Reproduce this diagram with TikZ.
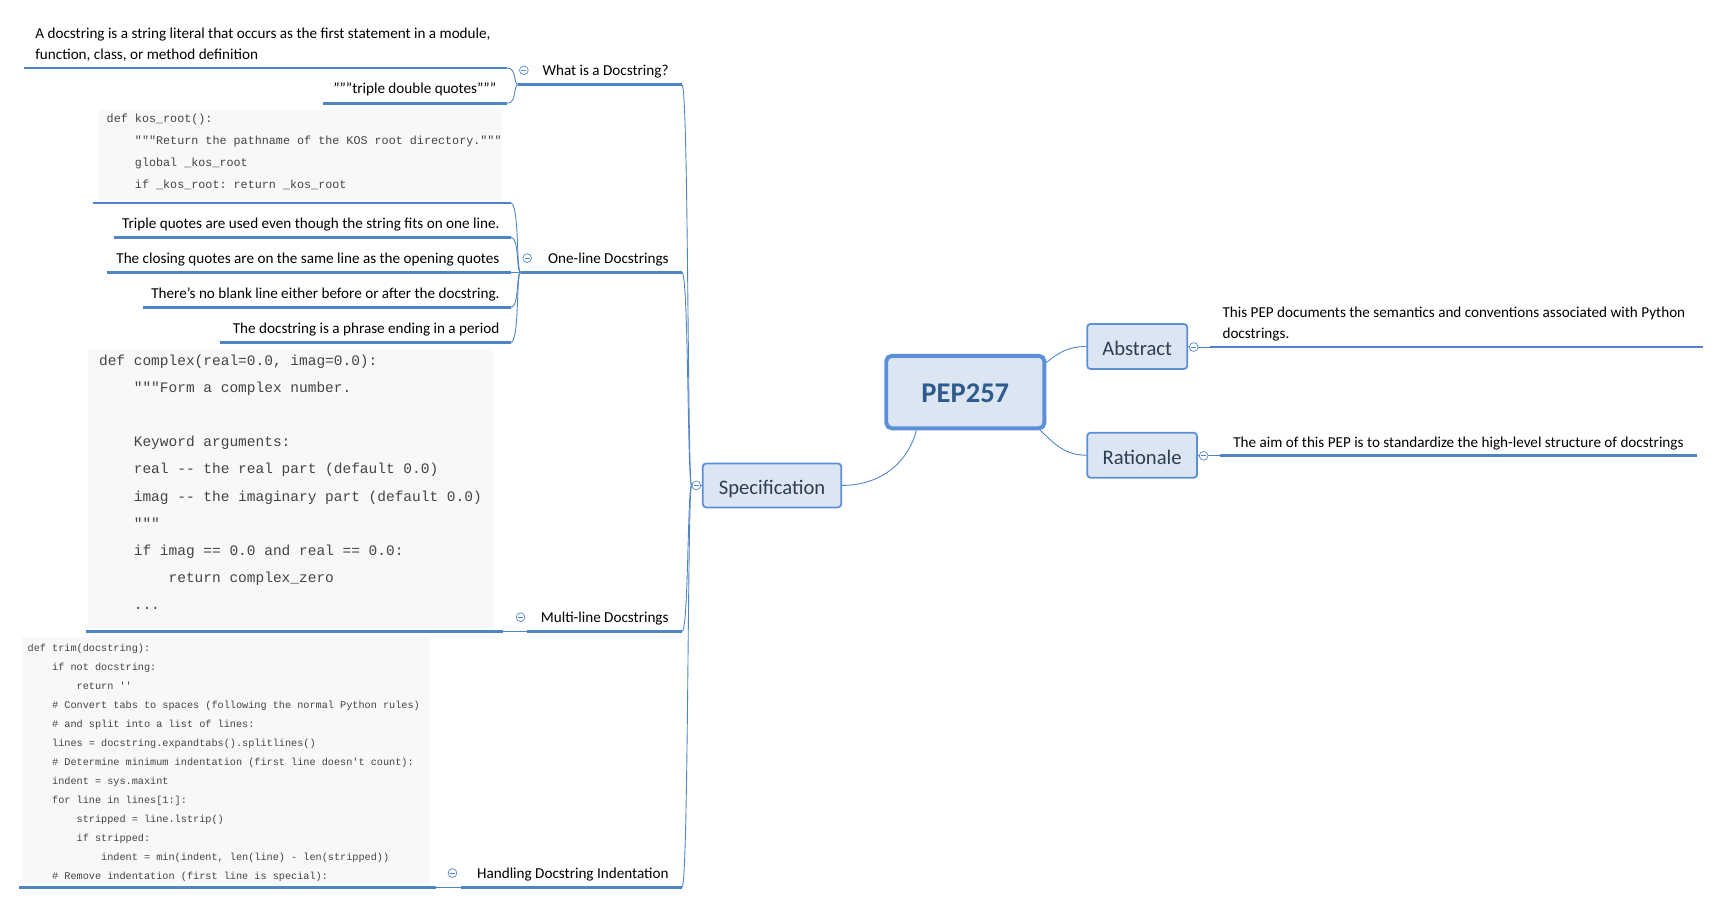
\documentclass[tikz,border=0pt]{standalone}
\usepackage{fontspec}
\setmainfont{Carlito}
\setmonofont{Liberation Mono}
\definecolor{lnblue}{HTML}{5084C8}
\definecolor{bdblue}{HTML}{5B8FD8}
\definecolor{boxfill}{HTML}{DCE6F2}
\definecolor{toptext}{HTML}{2C3E50}
\definecolor{peptext}{HTML}{2E5A8E}
\definecolor{codegray}{HTML}{F8F8F8}
\definecolor{codetext}{HTML}{444444}
\newcommand\ia{\hspace*{2.4em}}
\newcommand\collapsenode[2]{%
  \node[collapse] (#1) at (#2) {};
  \draw[lnblue, line width=0.6pt] ([xshift=-2.2pt]#1.center) -- ([xshift=2.2pt]#1.center);}
\begin{document}
\begin{tikzpicture}[x=1pt,y=-1pt,
  ln/.style={draw=lnblue, line width=0.8pt},
  uln/.style={draw=lnblue, line width=2.4pt},
  topic/.style={draw=bdblue, line width=1.6pt, fill=boxfill, rounded corners=3pt, text=toptext, font=\fontsize{18.8}{22}\selectfont, inner sep=0pt, text height=16.4pt, text depth=0pt},
  pepbox/.style={draw=bdblue, line width=3.6pt, fill=boxfill, rounded corners=5pt, text=peptext, font=\bfseries\fontsize{26}{30}\selectfont, inner sep=0pt, text height=18.6pt, text depth=0pt},
  sub/.style={inner sep=0pt, text=black, font=\fontsize{13.8}{19}\selectfont},
  collapse/.style={circle, draw=lnblue, line width=0.6pt, fill=white, minimum size=8pt, inner sep=0pt},
  codebg/.style={fill=codegray, draw=none, inner sep=0pt, anchor=north west},
  codeA/.style={inner sep=0pt, anchor=base west, text=codetext, font=\ttfamily\fontsize{10.7}{12}\selectfont},
  codeB/.style={inner sep=0pt, anchor=base west, text=codetext, font=\ttfamily\fontsize{13.2}{15}\selectfont},
  codeC/.style={inner sep=0pt, anchor=base west, text=codetext, font=\ttfamily\fontsize{9.3}{11}\selectfont}
]
\useasboundingbox (0,0) rectangle (1568,824);
\fill[white] (0,0) rectangle (1568,824);

% ---- code backgrounds
\node[codebg, minimum width=367pt, minimum height=83pt] (bgA) at (90,100) {};
\node[codebg, minimum width=370pt, minimum height=254pt] (bgB) at (80,318) {};
\node[codebg, minimum width=370pt, minimum height=226pt] (bgC) at (20,580) {};

% ---- code lines
\foreach \t [count=\i from 0] in {{def kos\_root():},{\ia"""Return the pathname of the KOS root directory."""},{\ia global \_kos\_root},{\ia if \_kos\_root: return \_kos\_root}}
  \node[codeA] (cA\i) at (97,111.8+20*\i) {\t};

\foreach \t [count=\i from 0] in {{def complex(real=0.0, imag=0.0):},{\ia"""Form a complex number.},{},{\ia Keyword arguments:},{\ia real -{}- the real part (default 0.0)},{\ia imag -{}- the imaginary part (default 0.0)},{\ia"""},{\ia if imag == 0.0 and real == 0.0:},{\ia\ia return complex\_zero},{\ia.{}.{}.}}
  \node[codeB] (cB\i) at (90,332.9+24.67*\i) {\t};

\foreach \t [count=\i from 0] in {{def trim(docstring):},{\ia if not docstring:},{\ia\ia return ''},{\ia\# Convert tabs to spaces (following the normal Python rules)},{\ia\# and split into a list of lines:},{\ia lines = docstring.expandtabs().splitlines()},{\ia\# Determine minimum indentation (first line doesn't count):},{\ia indent = sys.maxint},{\ia for line in lines[1:]:},{\ia\ia stripped = line.lstrip()},{\ia\ia if stripped:},{\ia\ia\ia indent = min(indent, len(line) - len(stripped))},{\ia\# Remove indentation (first line is special):}}
  \node[codeC] (cC\i) at (25,593.3+17.33*\i) {\t};

% ---- texts
\node[sub, anchor=west, align=left] (defn) at (32,41) {A docstring is a string literal that occurs as the first statement in a module,\\function, class, or method definition};
\node[sub, anchor=east] (tdq) at (452,81.5) {"""triple double quotes"""};
\node[sub, anchor=east] (t1) at (455,204.5) {Triple quotes are used even though the string fits on one line.};
\node[sub, anchor=east] (t2) at (455,236.5) {The closing quotes are on the same line as the opening quotes};
\node[sub, anchor=east] (t3) at (455,268.5) {There's no blank line either before or after the docstring.};
\node[sub, anchor=east] (t4) at (455,300.5) {The docstring is a phrase ending in a period};

\node[sub, anchor=east] (what) at (609,65.5) {What is a Docstring?};
\node[sub, anchor=east] (one) at (609,236.5) {One-line Docstrings};
\node[sub, anchor=east] (multi) at (609,563.5) {Multi-line Docstrings};
\node[sub, anchor=east] (hand) at (609,796.5) {Handling Docstring Indentation};

\node[sub, anchor=west, align=left] (absT) at (1113,295) {This PEP documents the semantics and conventions associated with Python\\docstrings.};
\node[sub] (ratT) at (1328,403.5) {The aim of this PEP is to standardize the high-level structure of docstrings};

% ---- topic boxes
\node[pepbox, minimum width=144pt, minimum height=66pt] (pep) at (879,357) {PEP257};
\node[topic, minimum width=91pt, minimum height=41pt] (abs) at (1035.5,315.5) {Abstract};
\node[topic, minimum width=100pt, minimum height=41pt] (rat) at (1040,414.5) {Rationale};
\node[topic, minimum width=126pt, minimum height=40pt] (spec) at (703,442) {Specification};

% ---- underline end points
\coordinate (defnR) at (462,62);
\coordinate (tdqR) at (462,94);
\coordinate (whatL) at (472,77);
\coordinate (whatR) at (621,77);
\coordinate (cAR) at (465,185);
\coordinate (t1R) at (465,216);
\coordinate (t2R) at (465,248);
\coordinate (t3R) at (465,280);
\coordinate (t4R) at (465,312);
\coordinate (oneL) at (474,248);
\coordinate (oneR) at (621,248);
\coordinate (cBR) at (458,575);
\coordinate (multiL) at (480,575);
\coordinate (multiR) at (621,575);
\coordinate (cCR) at (397,808);
\coordinate (handL) at (420,808);
\coordinate (handR) at (621,808);
\coordinate (absCL) at (1102,316);
\coordinate (absCR) at (1551,316);
\coordinate (ratCL) at (1111,415);
\coordinate (ratCR) at (1545,415);

% ---- underlines
\draw[uln] (22,62) -- (defnR);
\draw[uln] (294,94) -- (tdqR);
\draw[uln] (whatL) -- (whatR);
\draw[uln] (85,185) -- (cAR);
\draw[uln] (104,216) -- (t1R);
\draw[uln] (97,248) -- (t2R);
\draw[uln] (130,280) -- (t3R);
\draw[uln] (200,312) -- (t4R);
\draw[uln] (oneL) -- (oneR);
\draw[uln] (78,575) -- (cBR);
\draw[uln] (multiL) -- (multiR);
\draw[uln] (17,808) -- (cCR);
\draw[uln] (handL) -- (handR);
\draw[uln] (absCL) -- (absCR);
\draw[uln] (ratCL) -- (ratCR);

% ---- collapse markers
\collapsenode{cWhat}{477,64}
\collapsenode{cOne}{480,235}
\collapsenode{cMulti}{474,562}
\collapsenode{cHand}{412,795}
\collapsenode{cSpec}{634,442}
\collapsenode{cAbs}{1087,316}
\collapsenode{cRat}{1096,415}

% ---- connectors
\draw[ln] (pep.20) to[out=40,in=180] (abs.west);
\draw[ln] (pep.-27) to[out=-45,in=180] (rat.west);
\draw[ln] (pep.-142.5) to[out=-105,in=0] (spec.east);

\draw[ln] (abs.east) -- (cAbs.west);
\draw[ln] (cAbs.east) -- (absCL);
\draw[ln] (rat.east) -- (cRat.west);
\draw[ln] (cRat.east) -- (ratCL);
\draw[ln] (spec.west) -- (cSpec.east);

\foreach \c in {whatR,oneR,multiR,handR}
  \draw[ln] (cSpec.west) .. controls (626,442) and ([xshift=6pt]\c) .. (\c);

\draw[ln] (whatL) .. controls (467,77) and ([xshift=9pt]defnR) .. (defnR);
\draw[ln] (whatL) .. controls (467,77) and ([xshift=9pt]tdqR) .. (tdqR);

\foreach \c in {cAR,t1R,t2R,t3R,t4R}
  \draw[ln] (oneL) .. controls (470,248) and ([xshift=8pt]\c) .. (\c);

\draw[ln] (cBR) -- (multiL);
\draw[ln] (cCR) -- (handL);
\end{tikzpicture}
\end{document}
